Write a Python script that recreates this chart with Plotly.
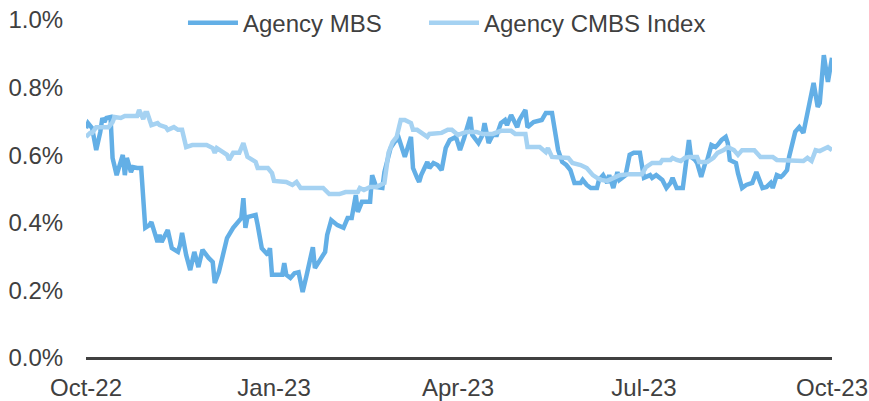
import plotly.graph_objects as go

mbs_dates = ["2022-10-01","2022-10-02","2022-10-04","2022-10-06","2022-10-08","2022-10-09","2022-10-10","2022-10-11","2022-10-13","2022-10-14",
"2022-10-16","2022-10-19","2022-10-20","2022-10-21","2022-10-23","2022-10-24","2022-10-26","2022-10-28","2022-10-30","2022-11-01",
"2022-11-02","2022-11-05","2022-11-06","2022-11-07","2022-11-10","2022-11-12","2022-11-15","2022-11-16","2022-11-17","2022-11-19",
"2022-11-21","2022-11-23","2022-11-25","2022-11-27","2022-11-30","2022-12-02","2022-12-03","2022-12-05","2022-12-07","2022-12-09",
"2022-12-12","2022-12-15","2022-12-16","2022-12-17","2022-12-18","2022-12-19","2022-12-23","2022-12-24","2022-12-26","2022-12-29",
"2022-12-30","2022-12-31","2023-01-05","2023-01-06","2023-01-07","2023-01-09","2023-01-11","2023-01-13","2023-01-15","2023-01-17",
"2023-01-20","2023-01-21","2023-01-23","2023-01-26","2023-01-27","2023-01-29","2023-02-01","2023-02-04","2023-02-06","2023-02-08",
"2023-02-10","2023-02-11","2023-02-13","2023-02-17","2023-02-18","2023-02-20","2023-02-23","2023-02-24","2023-02-27","2023-03-01",
"2023-03-03","2023-03-05","2023-03-06","2023-03-09","2023-03-10","2023-03-12","2023-03-13","2023-03-14","2023-03-17","2023-03-18",
"2023-03-20","2023-03-22","2023-03-24","2023-03-26","2023-03-28","2023-03-31","2023-04-02","2023-04-04","2023-04-07","2023-04-08",
"2023-04-11","2023-04-13","2023-04-14","2023-04-16","2023-04-18","2023-04-20","2023-04-22","2023-04-24","2023-04-25","2023-04-27",
"2023-04-30","2023-05-01","2023-05-04","2023-05-05","2023-05-08","2023-05-12","2023-05-14","2023-05-17","2023-05-20","2023-05-22",
"2023-05-24","2023-05-26","2023-05-27","2023-05-28","2023-05-31","2023-06-01","2023-06-03","2023-06-05","2023-06-08","2023-06-09",
"2023-06-11","2023-06-13","2023-06-14","2023-06-16","2023-06-18","2023-06-19","2023-06-22","2023-06-24","2023-06-26","2023-06-29",
"2023-07-01","2023-07-02","2023-07-04","2023-07-05","2023-07-07","2023-07-10","2023-07-12","2023-07-14","2023-07-15","2023-07-17",
"2023-07-20","2023-07-21","2023-07-23","2023-07-24","2023-07-26","2023-07-27","2023-07-29","2023-07-31","2023-08-01","2023-08-03",
"2023-08-05","2023-08-06","2023-08-08","2023-08-10","2023-08-11","2023-08-12","2023-08-15","2023-08-16","2023-08-18","2023-08-20",
"2023-08-23","2023-08-25","2023-08-28","2023-08-30","2023-09-01","2023-09-02","2023-09-04","2023-09-06","2023-09-07","2023-09-09",
"2023-09-10","2023-09-13","2023-09-15","2023-09-17","2023-09-19","2023-09-22","2023-09-24","2023-09-25","2023-09-27","2023-09-29",
"2023-10-01"]
mbs_values = [0.680,0.695,0.680,0.615,0.669,0.710,0.698,0.710,0.713,0.592,
0.541,0.601,0.541,0.592,0.550,0.565,0.562,0.562,0.385,0.393,
0.402,0.343,0.364,0.343,0.379,0.325,0.314,0.334,0.370,0.305,
0.260,0.314,0.269,0.320,0.296,0.284,0.222,0.254,0.305,0.355,
0.385,0.408,0.414,0.473,0.385,0.417,0.423,0.393,0.325,0.305,
0.325,0.246,0.246,0.281,0.246,0.237,0.251,0.254,0.195,0.246,
0.328,0.266,0.284,0.314,0.364,0.408,0.393,0.385,0.414,0.414,
0.482,0.432,0.462,0.462,0.541,0.506,0.503,0.550,0.621,0.639,
0.651,0.615,0.595,0.654,0.562,0.533,0.521,0.541,0.580,0.562,
0.577,0.571,0.556,0.621,0.645,0.654,0.615,0.651,0.713,0.660,
0.636,0.660,0.695,0.636,0.660,0.660,0.695,0.704,0.689,0.719,
0.683,0.704,0.734,0.683,0.698,0.704,0.725,0.725,0.615,0.580,
0.571,0.556,0.541,0.518,0.518,0.527,0.512,0.503,0.503,0.527,
0.541,0.518,0.541,0.503,0.550,0.527,0.541,0.601,0.607,0.607,
0.533,0.536,0.541,0.533,0.541,0.527,0.503,0.518,0.533,0.503,
0.503,0.550,0.645,0.595,0.586,0.577,0.536,0.577,0.586,0.630,
0.624,0.630,0.645,0.654,0.636,0.586,0.577,0.547,0.503,0.512,
0.518,0.550,0.503,0.506,0.518,0.503,0.541,0.536,0.541,0.556,
0.595,0.669,0.683,0.666,0.725,0.814,0.743,0.754,0.896,0.817,
0.888]

cmbs_dates = ["2022-10-01","2022-10-03","2022-10-04","2022-10-06","2022-10-12","2022-10-14","2022-10-15","2022-10-18","2022-10-20","2022-10-26",
"2022-10-27","2022-10-29","2022-10-30","2022-10-31","2022-11-02","2022-11-05","2022-11-06","2022-11-09","2022-11-10","2022-11-13",
"2022-11-15","2022-11-17","2022-11-19","2022-11-22","2022-11-29","2022-12-02","2022-12-03","2022-12-04","2022-12-07","2022-12-09",
"2022-12-10","2022-12-12","2022-12-15","2022-12-17","2022-12-19","2022-12-21","2022-12-23","2022-12-24","2022-12-29","2022-12-31",
"2023-01-01","2023-01-07","2023-01-10","2023-01-12","2023-01-14","2023-01-25","2023-01-28","2023-02-02","2023-02-05","2023-02-11",
"2023-02-12","2023-02-14","2023-02-17","2023-02-20","2023-02-24","2023-02-26","2023-02-28","2023-03-02","2023-03-04","2023-03-06",
"2023-03-09","2023-03-10","2023-03-12","2023-03-17","2023-03-18","2023-03-24","2023-03-27","2023-03-29","2023-04-01","2023-04-05",
"2023-04-10","2023-04-13","2023-04-18","2023-04-22","2023-04-27","2023-04-29","2023-05-04","2023-05-05","2023-05-11","2023-05-14",
"2023-05-15","2023-05-17","2023-05-22","2023-05-25","2023-05-27","2023-05-31","2023-06-03","2023-06-06","2023-06-08","2023-06-10",
"2023-06-13","2023-06-16","2023-06-19","2023-06-24","2023-06-30","2023-07-02","2023-07-05","2023-07-09","2023-07-10","2023-07-14",
"2023-07-15","2023-07-17","2023-07-19","2023-07-21","2023-07-23","2023-07-27","2023-07-28","2023-08-01","2023-08-04","2023-08-06",
"2023-08-09","2023-08-11","2023-08-14","2023-08-16","2023-08-18","2023-08-24","2023-08-27","2023-09-02","2023-09-04","2023-09-17",
"2023-09-19","2023-09-21","2023-09-23","2023-09-25","2023-09-29","2023-10-01"]
cmbs_values = [0.654,0.666,0.666,0.683,0.683,0.698,0.713,0.710,0.716,0.716,
0.734,0.707,0.725,0.725,0.689,0.695,0.689,0.683,0.675,0.683,
0.675,0.675,0.624,0.630,0.630,0.621,0.607,0.621,0.609,0.601,
0.586,0.607,0.607,0.636,0.595,0.586,0.580,0.562,0.562,0.547,
0.524,0.521,0.512,0.521,0.503,0.503,0.485,0.485,0.491,0.491,
0.503,0.497,0.506,0.506,0.518,0.607,0.639,0.654,0.704,0.704,
0.695,0.675,0.675,0.654,0.663,0.666,0.675,0.675,0.660,0.669,
0.669,0.663,0.663,0.672,0.672,0.663,0.663,0.624,0.624,0.609,
0.621,0.595,0.592,0.592,0.577,0.571,0.562,0.541,0.533,0.527,
0.524,0.533,0.541,0.544,0.544,0.565,0.577,0.577,0.586,0.586,
0.592,0.586,0.583,0.592,0.595,0.595,0.580,0.580,0.592,0.607,
0.615,0.624,0.615,0.601,0.615,0.615,0.595,0.595,0.586,0.583,
0.592,0.583,0.615,0.612,0.624,0.615]

x_tickvals = ["2022-10-01","2023-01-01","2023-04-01","2023-07-01","2023-10-01"]
x_ticktext = ["Oct-22","Jan-23","Apr-23","Jul-23","Oct-23"]
y_tickvals = [0.0,0.2,0.4,0.6,0.8,1.0]
y_ticktext = ["0.0%","0.2%","0.4%","0.6%","0.8%","1.0%"]

fig = go.Figure()
fig.add_trace(go.Scatter(x=mbs_dates, y=mbs_values, mode="lines", name="Agency MBS",
                         line=dict(color="#63AFE6", width=4.5), legend="legend"))
fig.add_trace(go.Scatter(x=cmbs_dates, y=cmbs_values, mode="lines", name="Agency CMBS Index",
                         line=dict(color="#A5D2F2", width=4.5), legend="legend2"))

font_family = "Liberation Sans, Arial, sans-serif"
legend_common = dict(orientation="h", xanchor="left", y=0.991, yanchor="middle",
                     font=dict(size=24, color="#404040"), bgcolor="rgba(0,0,0,0)",
                     itemwidth=50)
fig.update_layout(
    width=869, height=401,
    margin=dict(l=86, r=37, t=20, b=43, autoexpand=False),
    paper_bgcolor="white", plot_bgcolor="white",
    font=dict(family=font_family, size=24, color="#404040"),
    showlegend=True,
    legend=dict(x=0.130, **legend_common),
    legend2=dict(x=0.4531, **legend_common),
    xaxis=dict(range=["2022-10-01","2023-10-01"], tickvals=x_tickvals, ticktext=x_ticktext,
               showgrid=False, zeroline=False, showline=False,
               ticks="outside", ticklen=8, tickcolor="rgba(0,0,0,0)",
               ticklabeloverflow="allow",
               tickfont=dict(size=24, color="#404040")),
    yaxis=dict(range=[0, 1.0], tickvals=y_tickvals, ticktext=y_ticktext,
               showgrid=False, zeroline=True, zerolinecolor="#404040", zerolinewidth=3,
               showline=False, ticks="outside", ticklen=17, tickcolor="rgba(0,0,0,0)",
               ticklabeloverflow="allow",
               tickfont=dict(size=24, color="#404040")),
)
fig.write_html("out.html", config={"displayModeBar": False},
               post_script="document.body.style.margin='0';")
